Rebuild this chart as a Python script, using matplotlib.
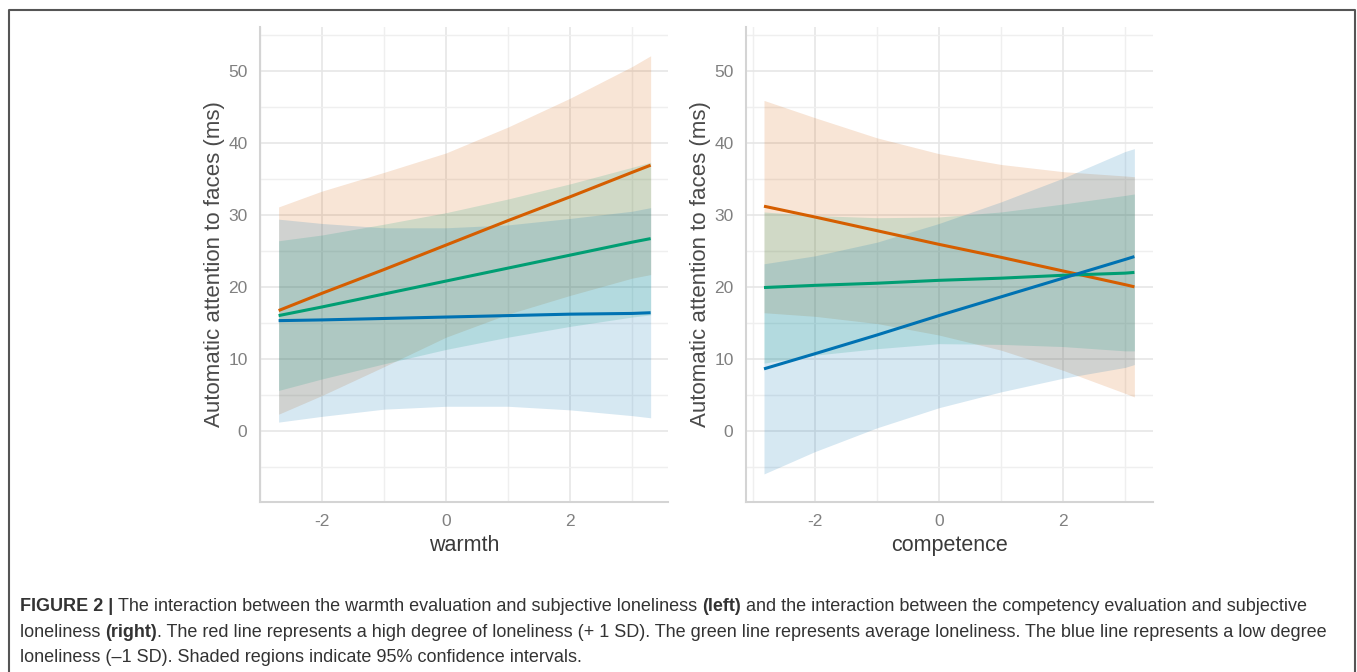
import matplotlib
matplotlib.use("Agg")
import matplotlib.pyplot as plt
import numpy as np

plt.rcParams['font.family'] = ['Liberation Sans', 'DejaVu Sans']
plt.rcParams['axes.unicode_minus'] = False

# colours for high / average / low loneliness
c_high = '#D55E00'
c_avg = '#009E73'
c_low = '#0072B2'

# warmth panel (left)
warmth_x = [-2.7, -2.0, -1.0, 0.0, 1.0, 2.0, 3.0, 3.3]
w_high_fit = [16.7, 19.1, 22.4, 25.8, 29.2, 32.5, 35.9, 36.9]
w_high_lo = [2.3, 4.9, 8.9, 13.0, 16.2, 18.8, 21.2, 21.7]
w_high_hi = [31.1, 33.3, 35.9, 38.6, 42.2, 46.2, 50.6, 52.1]
w_avg_fit = [16.0, 17.2, 19.0, 20.8, 22.6, 24.4, 26.2, 26.7]
w_avg_lo = [5.6, 7.2, 9.3, 11.3, 13.0, 14.5, 15.8, 16.1]
w_avg_hi = [26.4, 27.2, 28.7, 30.3, 32.2, 34.3, 36.6, 37.3]
w_low_fit = [15.3, 15.4, 15.6, 15.8, 16.0, 16.2, 16.3, 16.4]
w_low_lo = [1.2, 2.0, 3.0, 3.4, 3.4, 2.9, 2.1, 1.8]
w_low_hi = [29.4, 28.8, 28.2, 28.2, 28.6, 29.5, 30.5, 31.0]

# competence panel (right)
comp_x = [-2.82, -2.0, -1.0, 0.0, 1.0, 2.0, 3.0, 3.15]
c_high_fit = [31.2, 29.7, 27.8, 25.9, 24.1, 22.2, 20.3, 20.0]
c_high_lo = [16.4, 15.9, 14.9, 13.3, 11.2, 8.4, 5.2, 4.7]
c_high_hi = [45.9, 43.5, 40.7, 38.5, 37.0, 36.0, 35.4, 35.3]
c_avg_fit = [19.9, 20.2, 20.5, 20.9, 21.2, 21.6, 21.9, 22.0]
c_avg_lo = [9.4, 10.5, 11.4, 12.1, 12.0, 11.7, 11.1, 11.1]
c_avg_hi = [30.4, 29.9, 29.6, 29.7, 30.4, 31.5, 32.7, 32.9]
c_low_fit = [8.6, 10.7, 13.3, 16.0, 18.6, 21.2, 23.8, 24.2]
c_low_lo = [-6.0, -2.9, 0.4, 3.2, 5.4, 7.3, 8.8, 9.2]
c_low_hi = [23.2, 24.3, 26.2, 28.8, 31.8, 35.1, 38.8, 39.2]

y_ticks = [0, 10, 20, 30, 40, 50]
x_ticks = [-2, 0, 2]

W, H = 1357, 672
fig = plt.figure(figsize=(W / 100, H / 100), dpi=100)


def box(l, r, t, b):
    return [l / W, 1 - b / H, (r - l) / W, (b - t) / H]


def panel(ax, x, series, xlim, xlabel):
    for fit, lo, hi, col in series:
        ax.fill_between(x, lo, hi, color=col, alpha=0.16, lw=0)
    for fit, lo, hi, col in series:
        ax.plot(x, fit, color=col, lw=2.2, solid_capstyle='butt')
    ax.set_xlim(*xlim)
    ax.set_ylim(-9.9, 56.1)
    ax.set_yticks(y_ticks)
    ax.set_xticks(x_ticks)
    ax.set_xticks([-3, -1, 1, 3], minor=True)
    ax.set_yticks([-5, 5, 15, 25, 35, 45, 55], minor=True)
    ax.grid(True, which='major', color='#e6e6e6', lw=1.2)
    ax.grid(True, which='minor', color='#efefef', lw=1.0)
    ax.set_axisbelow(True)
    for s in ['top', 'right']:
        ax.spines[s].set_visible(False)
    for s in ['left', 'bottom']:
        ax.spines[s].set_color('#d4d4d4')
        ax.spines[s].set_linewidth(1.5)
    ax.tick_params(which='both', length=0, labelsize=12.5, labelcolor='#808080')
    ax.tick_params(axis='y', pad=9)
    ax.tick_params(axis='x', pad=9)
    ax.set_xlabel(xlabel, fontsize=15.5, color='#3a3a3a', labelpad=4)
    ax.set_ylabel('Automatic attention to faces (ms)', fontsize=16,
                  color='#4a4a4a', labelpad=2)


ax1 = fig.add_axes(box(260, 668, 27, 502))
panel(ax1, warmth_x,
      [(w_high_fit, w_high_lo, w_high_hi, c_high),
       (w_avg_fit, w_avg_lo, w_avg_hi, c_avg),
       (w_low_fit, w_low_lo, w_low_hi, c_low)],
      (-3.0, 3.58), 'warmth')

ax2 = fig.add_axes(box(746, 1153, 27, 502))
panel(ax2, comp_x,
      [(c_high_fit, c_high_lo, c_high_hi, c_high),
       (c_avg_fit, c_avg_lo, c_avg_hi, c_avg),
       (c_low_fit, c_low_lo, c_low_hi, c_low)],
      (-3.11, 3.45), 'competence')

# frame around the figure (open at the bottom)
frame = fig.add_axes([0, 0, 1, 1], facecolor='none')
frame.set_xlim(0, W)
frame.set_ylim(H, 0)
frame.axis('off')
frame.plot([8.5, 8.5, 1354.5, 1354.5], [H + 2, 9.5, 9.5, H + 2],
           color='#555555', lw=1.5, clip_on=False)

# caption, mixing bold and regular pieces
caption = [
    [('FIGURE 2 | ', 'bold'),
     ('The interaction between the warmth evaluation and subjective loneliness ', 'normal'),
     ('(left)', 'bold'),
     (' and the interaction between the competency evaluation and subjective', 'normal')],
    [('loneliness ', 'normal'), ('(right)', 'bold'),
     ('. The red line represents a high degree of loneliness (+ 1 SD). The green line '
      'represents average loneliness. The blue line represents a low degree', 'normal')],
    [('loneliness (\u20131 SD). Shaded regions indicate 95% confidence intervals.', 'normal')],
]
line_y = [611, 637, 662]

fig.canvas.draw()
renderer = fig.canvas.get_renderer()
for pieces, y in zip(caption, line_y):
    x = 20
    for txt, weight in pieces:
        t = fig.text(x / W, 1 - y / H, txt, fontsize=13, fontweight=weight,
                     color='#333333', va='baseline', ha='left')
        bb = t.get_window_extent(renderer=renderer)
        x += bb.width

fig.savefig('out.png', dpi=100)
